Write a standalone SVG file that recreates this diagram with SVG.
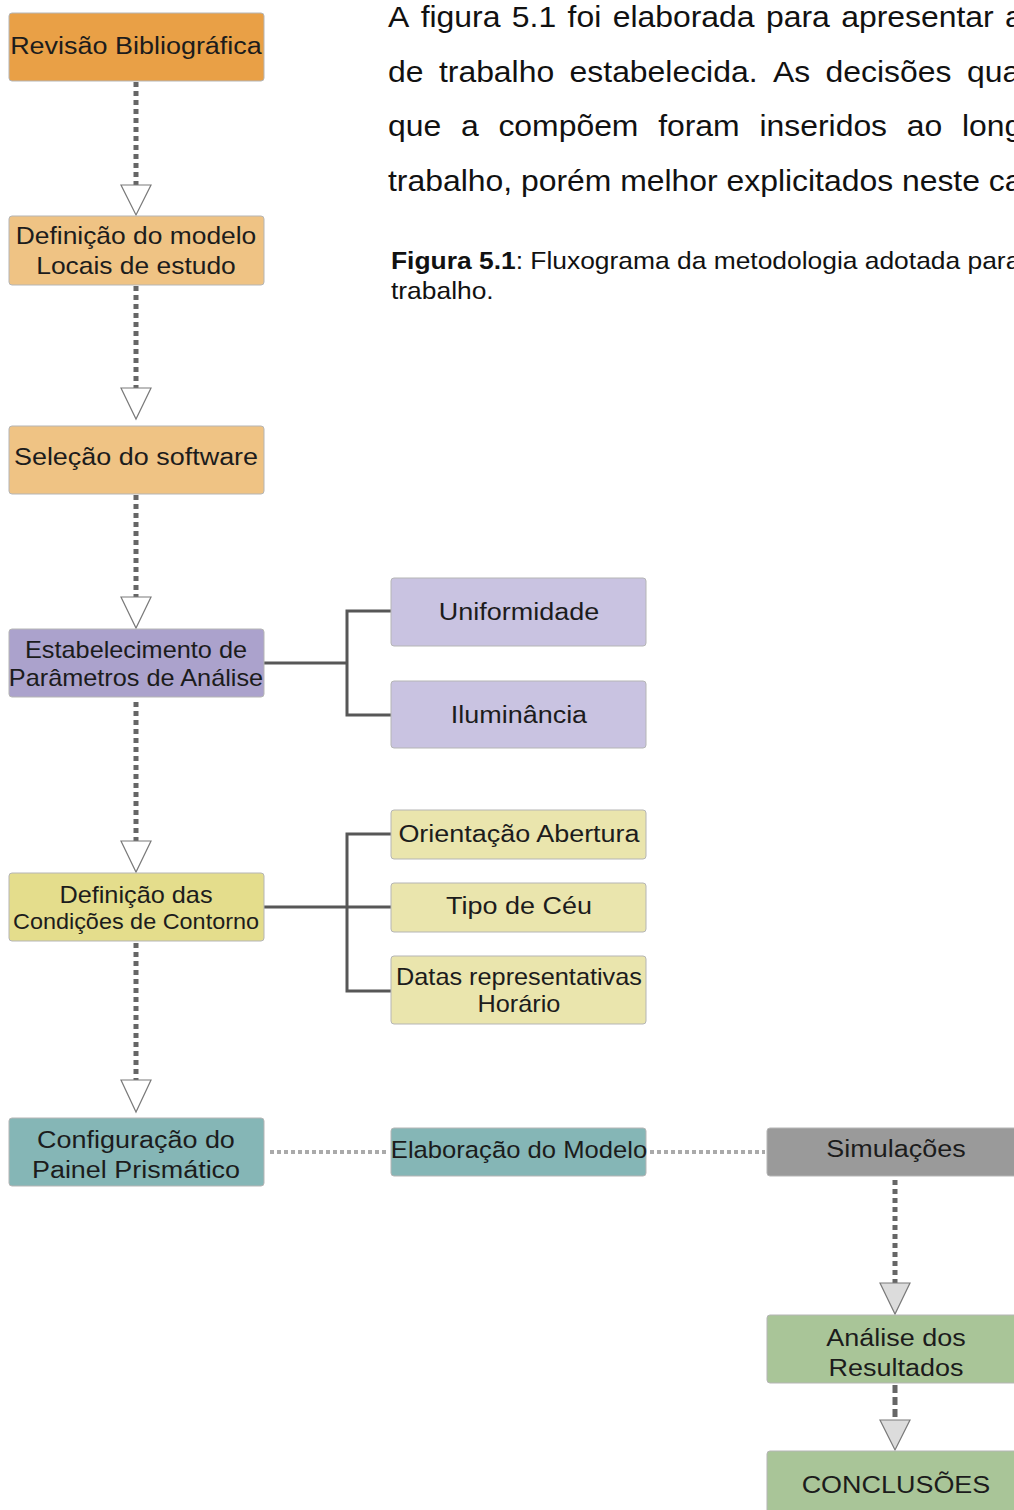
<svg xmlns="http://www.w3.org/2000/svg" width="1014" height="1510" viewBox="0 0 1014 1510">
  <style>
    .box { stroke: #b5b5b5; stroke-width: 1; }
    .lbl { font-family: "Liberation Sans", Arial, sans-serif; font-size: 24.5px; fill: #1c1c1c; text-anchor: middle;
           transform-box: fill-box; transform-origin: center; transform: scaleX(1.1); }
    .sm { font-size: 23px; }
    .para { font-family: "Liberation Sans", Arial, sans-serif; font-size: 29px; fill: #111; }
    .cap { font-family: "Liberation Sans", Arial, sans-serif; font-size: 24px; fill: #111; }
    .flow { fill: none; stroke: #666; stroke-width: 5; stroke-dasharray: 5 4; }
    .flowlight { fill: none; stroke: #aaa; stroke-width: 4; stroke-dasharray: 4 3; }
    .flowbold { fill: none; stroke: #666; stroke-width: 5; stroke-dasharray: 8 4; }
    .branch { fill: none; stroke: #575757; stroke-width: 3; }
    .head { fill: #fff; stroke: #7a7a7a; stroke-width: 1.2; }
    .headgray { fill: #dcdcdc; stroke: #7a7a7a; stroke-width: 1.2; }
  </style>

  <!-- body text (justified lines, slightly widened type) -->
  <g id="paragraph" transform="matrix(1.1 0 0 1 -38.8 0)">
    <text class="para" y="27"><tspan x="388">A</tspan><tspan x="417.7">figura</tspan><tspan x="500.6">5.1</tspan><tspan x="551.3">foi</tspan><tspan x="592.3">elaborada</tspan><tspan x="731.6">para</tspan><tspan x="800">apresentar</tspan><tspan x="948.9">a</tspan></text>
    <text class="para" y="82"><tspan x="388">de</tspan><tspan x="434.3">trabalho</tspan><tspan x="553.1">estabelecida.</tspan><tspan x="738">As</tspan><tspan x="785.8">decisões</tspan><tspan x="914.4">qua</tspan></text>
    <text class="para" y="136"><tspan x="388">que</tspan><tspan x="454.4">a</tspan><tspan x="488.4">compõem</tspan><tspan x="633.6">foram</tspan><tspan x="725.7">inseridos</tspan><tspan x="859.7">ao</tspan><tspan x="909.8">long</tspan></text>
    <text class="para" x="388" y="191">trabalho, porém melhor explicitados neste ca</text>
  </g>
  <g id="caption" transform="matrix(1.1 0 0 1 -39.1 0)">
    <text class="cap" x="391" y="269"><tspan font-weight="bold">Figura 5.1</tspan>: Fluxograma da metodologia adotada para</text>
    <text class="cap" x="391" y="299">trabalho.</text>
  </g>

  <!-- connectors -->
  <g id="connectors">
    <line class="flow" x1="136" y1="82" x2="136" y2="186"/>
    <polygon class="head" points="121,185 151,185 136,215"/>
    <line class="flow" x1="136" y1="286" x2="136" y2="389"/>
    <polygon class="head" points="121,388 151,388 136,419"/>
    <line class="flow" x1="136" y1="495" x2="136" y2="598"/>
    <polygon class="head" points="121,597 151,597 136,628"/>
    <line class="flow" x1="136" y1="702" x2="136" y2="842"/>
    <polygon class="head" points="121,841 151,841 136,872"/>
    <line class="flow" x1="136" y1="943" x2="136" y2="1081"/>
    <polygon class="head" points="121,1080 151,1080 136,1112"/>

    <path class="branch" d="M264,663 H347 M391,611 H347 V715 H391"/>
    <path class="branch" d="M264,907 H391 M391,834 H347 V991 H391"/>

    <line class="flowlight" x1="270" y1="1152" x2="387" y2="1152"/>
    <line class="flowlight" x1="650" y1="1152" x2="765" y2="1152"/>

    <line class="flow" x1="895" y1="1180" x2="895" y2="1284"/>
    <polygon class="headgray" points="880,1283 910,1283 895,1314"/>
    <line class="flowbold" x1="895" y1="1385" x2="895" y2="1421"/>
    <polygon class="headgray" points="880,1420 910,1420 895,1450"/>
  </g>

  <g id="revisao">
    <rect class="box" x="9" y="13" width="255" height="68" rx="3" fill="#E9A046"/>
    <text class="lbl" x="136" y="54">Revisão Bibliográfica</text>
  </g>
  <g id="definicao-modelo">
    <rect class="box" x="9" y="216" width="255" height="69" rx="3" fill="#EFC384"/>
    <text class="lbl" x="136" y="244" style="font-size:24px">Definição do modelo</text>
    <text class="lbl" x="136" y="274" style="font-size:24px">Locais de estudo</text>
  </g>
  <g id="selecao-software">
    <rect class="box" x="9" y="426" width="255" height="68" rx="3" fill="#EFC384"/>
    <text class="lbl" x="136" y="465">Seleção do software</text>
  </g>
  <g id="parametros">
    <rect class="box" x="9" y="629" width="255" height="68" rx="3" fill="#ABA2CC"/>
    <text class="lbl sm" x="136" y="658">Estabelecimento de</text>
    <text class="lbl sm" x="136" y="686">Parâmetros de Análise</text>
  </g>
  <g id="uniformidade">
    <rect class="box" x="391" y="578" width="255" height="68" rx="3" fill="#C9C3E1"/>
    <text class="lbl" x="519" y="620">Uniformidade</text>
  </g>
  <g id="iluminancia">
    <rect class="box" x="391" y="681" width="255" height="67" rx="3" fill="#C9C3E1"/>
    <text class="lbl" x="519" y="723">Iluminância</text>
  </g>
  <g id="condicoes">
    <rect class="box" x="9" y="873" width="255" height="68" rx="3" fill="#E4DD8C"/>
    <text class="lbl sm" x="136" y="903">Definição das</text>
    <text class="lbl sm" x="136" y="929" style="font-size:21.3px">Condições de Contorno</text>
  </g>
  <g id="orientacao">
    <rect class="box" x="391" y="810" width="255" height="49" rx="3" fill="#EAE5AD"/>
    <text class="lbl" x="519" y="842">Orientação Abertura</text>
  </g>
  <g id="tipo-ceu">
    <rect class="box" x="391" y="883" width="255" height="49" rx="3" fill="#EAE5AD"/>
    <text class="lbl" x="519" y="914">Tipo de Céu</text>
  </g>
  <g id="datas">
    <rect class="box" x="391" y="956" width="255" height="68" rx="3" fill="#EAE5AD"/>
    <text class="lbl sm" x="519" y="985">Datas representativas</text>
    <text class="lbl sm" x="519" y="1012">Horário</text>
  </g>
  <g id="painel">
    <rect class="box" x="9" y="1118" width="255" height="68" rx="3" fill="#85B6B6"/>
    <text class="lbl" x="136" y="1148">Configuração do</text>
    <text class="lbl" x="136" y="1178">Painel Prismático</text>
  </g>
  <g id="elaboracao">
    <rect class="box" x="391" y="1128" width="255" height="48" rx="3" fill="#85B6B6"/>
    <text class="lbl" x="519" y="1158" style="font-size:23.3px">Elaboração do Modelo</text>
  </g>
  <g id="simulacoes">
    <rect class="box" x="767" y="1128" width="260" height="48" rx="3" fill="#9A9A9A"/>
    <text class="lbl" x="896" y="1157">Simulações</text>
  </g>
  <g id="analise">
    <rect class="box" x="767" y="1315" width="260" height="68" rx="3" fill="#A9C598"/>
    <text class="lbl" x="896" y="1346">Análise dos</text>
    <text class="lbl" x="896" y="1376">Resultados</text>
  </g>
  <g id="conclusoes">
    <rect class="box" x="767" y="1451" width="260" height="70" rx="3" fill="#A9C598"/>
    <text class="lbl" x="896" y="1493">CONCLUSÕES</text>
  </g>
</svg>
